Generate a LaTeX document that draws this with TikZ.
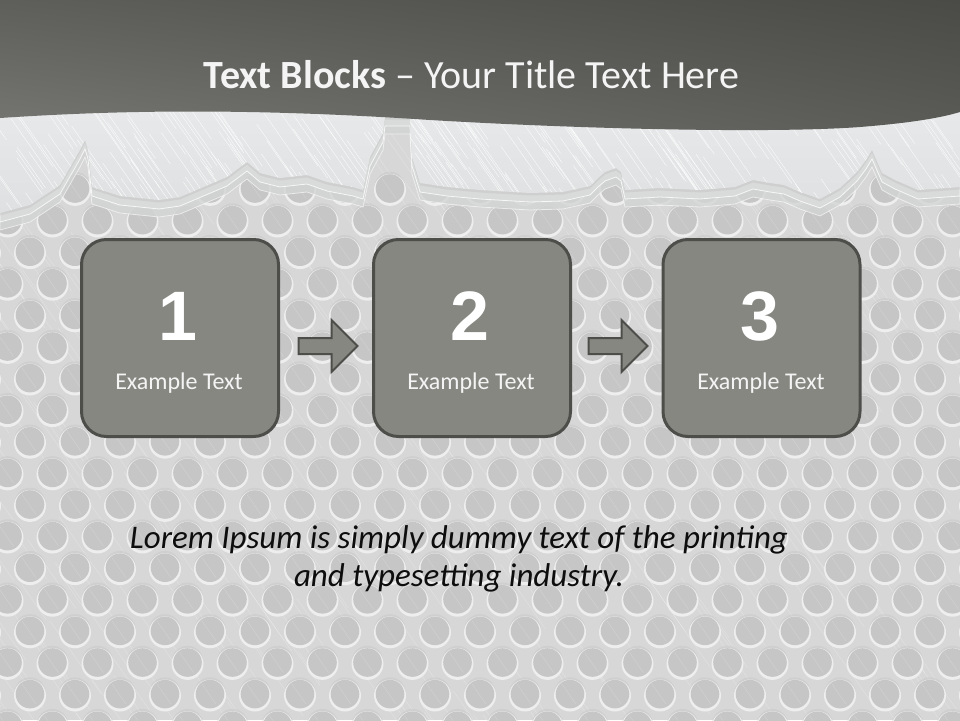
\documentclass[tikz,border=0pt]{standalone}
\usepackage{fontspec}
\setmainfont{Carlito}
\newfontfamily\numfont{Liberation Sans}
\usetikzlibrary{shapes.arrows,calc,shadings}
\definecolor{bgc}{HTML}{D7D7D7}
\definecolor{holec}{HTML}{C6C6C6}
\definecolor{rimc}{HTML}{EEEEEE}
\definecolor{tornc}{HTML}{E8EAEB}
\definecolor{tornb}{HTML}{DEE0E1}
\definecolor{ridgec}{HTML}{D9DADA}
\definecolor{hazec}{HTML}{D3D4D4}
\definecolor{bandUL}{HTML}{5E5F5B}
\definecolor{bandUR}{HTML}{4A4A47}
\definecolor{bandLL}{HTML}{767773}
\definecolor{bandLR}{HTML}{5B5B58}
\definecolor{boxfill}{HTML}{878782}
\definecolor{boxline}{HTML}{4D4D4A}
\definecolor{titlec}{HTML}{F4F4F4}
\tikzset{
  stepbox/.style={draw=boxline, line width=3pt, fill=boxfill, rounded corners=25pt,
    minimum width=197pt, minimum height=197pt, inner sep=0pt},
  numtxt/.style={font=\numfont\bfseries\fontsize{70}{70}\selectfont, text=white, anchor=base, inner sep=0pt},
  extxt/.style={font=\fontsize{24}{24}\selectfont, text=titlec, anchor=base, inner sep=0pt},
  blockarrow/.style={single arrow, draw=boxline, line width=2pt, fill=boxfill,
    minimum height=59pt, inner xsep=0pt, inner ysep=7pt, single arrow head extend=18pt,
    single arrow tip angle=90, text height=0pt, text depth=0pt, anchor=tail}
}
\begin{document}
\begin{tikzpicture}[x=1pt,y=-1pt]
\useasboundingbox (0,0) rectangle (960,720);
% background
\fill[bgc] (0,0) rectangle (960,720);
% brushed texture
\pgfmathsetseed{7}
\foreach \i in {1,...,520}{
  \pgfmathsetmacro\bx{rnd*1200-240}
  \pgfmathsetmacro\by{rnd*720}
  \pgfmathsetmacro\bl{20+rnd*90}
  \draw[white, opacity=0.3, line width=0.4pt] (\bx,\by) -- ++(\bl*0.7,\bl);
}
% circle pattern
\foreach \k in {0,...,17}{
  \pgfmathsetmacro\yy{188.5+31.6*\k}
  \pgfmathsetmacro\xo{mod(\k,2)==0 ? 30 : 7.5}
  \foreach \n in {-1,...,21}{
    \pgfmathsetmacro\xx{\xo+45*\n}
    \fill[black!22, opacity=0.45] (\xx,\yy-1.2) circle[radius=15.6pt];
    \fill[rimc] (\xx,\yy+1.4) circle[radius=16pt];
    \fill[holec] (\xx,\yy) circle[radius=14.3pt];
    \draw[white, opacity=0.22, line width=0.4pt] (\xx-8,\yy-10) -- (\xx+6,\yy+10);
  }
}
% torn metal band
\def\tornpath{(0,90) -- (960,90) -- (960,187) -- (918,190) -- (895,180) -- (882,173) -- (872,150) -- (866,160) -- (857,172) -- (840,188) -- (820,199) -- (800,192) -- (784,185) -- (770,183) -- (753,180) -- (735,187) -- (700,190) -- (660,188) -- (625,190) -- (621,172) -- (616,168) -- (605,172) -- (598,178) -- (590,186) -- (563,192) -- (530,193) -- (480,190) -- (447,187) -- (420,183) -- (412,157) -- (410,117) -- (385,117) -- (383,133) -- (370,157) -- (363,190) -- (353,187) -- (327,182) -- (307,175) -- (280,178) -- (260,173) -- (247,162) -- (227,177) -- (180,197) -- (159,200) -- (120,196) -- (92,187) -- (88,150) -- (85,140) -- (80,150) -- (60,185) -- (30,205) -- (0,213) -- cycle}
\fill[hazec, opacity=0.8, yshift=-17pt] \tornpath;
\draw[white, opacity=0.6, line width=0.8pt, yshift=-17pt] \tornpath;
\fill[ridgec, yshift=-9pt] \tornpath;
\draw[white, opacity=0.8, line width=0.8pt, yshift=-9pt] \tornpath;
\fill[black!30, opacity=0.25, yshift=-2.5pt] \tornpath;
\shade[top color=tornc, bottom color=tornb] \tornpath;
\begin{scope}
  \clip \tornpath;
  \pgfmathsetseed{11}
  \foreach \i in {1,...,360}{
    \pgfmathsetmacro\bx{rnd*1100-150}
    \pgfmathsetmacro\by{rnd*140+80}
    \pgfmathsetmacro\bl{20+rnd*70}
    \draw[white, opacity=0.8, line width=0.45pt] (\bx,\by) -- ++(\bl*0.7,\bl);
  }
\end{scope}
% dark title band
\shade[upper left=bandUL, upper right=bandUR, lower left=bandLL, lower right=bandLR]
  (0,0) -- (960,0) -- (960,112) .. controls (940,118) and (910,123) .. (860,127)
  .. controls (780,133) and (600,130) .. (430,120)
  .. controls (250,108) and (120,110) .. (0,118) -- cycle;
% title
\node[anchor=base, text=titlec, inner sep=0pt, font=\fontsize{40}{40}\selectfont] (title) at (471.5,88)
  {\textbf{Text Blocks} – Your Title Text Here};
% boxes
\node[stepbox] (b1) at (180,338) {};
\node[stepbox] (b2) at (472,338) {};
\node[stepbox] (b3) at (761.5,338) {};
\node[numtxt] (n1) at (178,340) {1};
\node[numtxt] (n2) at (470,340) {2};
\node[numtxt] (n3) at (760,340) {3};
\node[extxt] (t1) at (179,389) {Example Text};
\node[extxt] (t2) at (471,389) {Example Text};
\node[extxt] (t3) at (761,389) {Example Text};
% arrows
\node[blockarrow] (a1) at ($(b1.east)+(17.5,8)$) {};
\node[blockarrow] (a2) at ($(b2.east)+(15.5,8)$) {};
% body text
\node[anchor=base, align=center, inner sep=0pt, text=black!95, font=\itshape\fontsize{33}{38}\selectfont] (lorem) at (459,586)
  {Lorem Ipsum is simply dummy text of the printing\\and typesetting industry.};
\end{tikzpicture}
\end{document}
